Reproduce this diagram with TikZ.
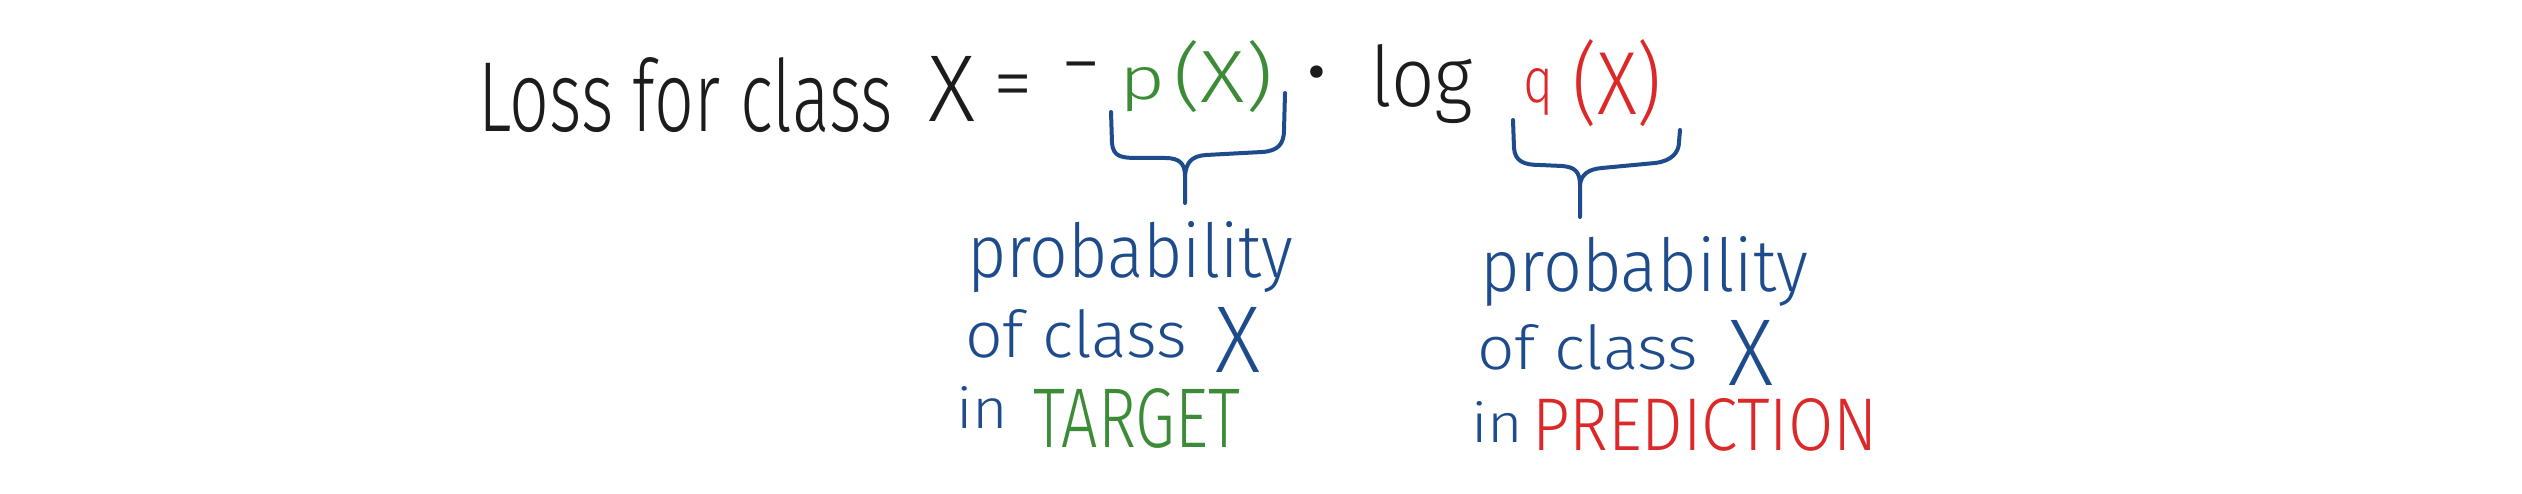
\documentclass[tikz,border=0pt]{standalone}
\usepackage{fontspec}
\setmainfont{Fira Sans Light}
\usepackage{graphicx}
\definecolor{ink}{RGB}{28,28,28}
\definecolor{pgreen}{RGB}{60,140,55}
\definecolor{qred}{RGB}{220,40,40}
\definecolor{bblue}{RGB}{30,75,140}
\newcommand\rsz[3]{\resizebox{#1pt}{#2pt}{#3}}
\begin{document}
\begin{tikzpicture}[x=1pt,y=-1pt,
  txt/.style={inner sep=0pt, outer sep=0pt, anchor=base west},
  optxt/.style={inner sep=0pt, outer sep=0pt, anchor=base, font=\fontsize{80}{80}\selectfont, text=ink},
  brace/.style={draw=bblue, line width=4pt, line cap=round, line join=round}]
\useasboundingbox (0,0) rectangle (2522,494);
\fill[white] (0,0) rectangle (2522,494);

% formula
\node[txt, text=ink] (loss) at (478,132) {\rsz{415}{74}{Loss for class}};
\node[txt, text=ink] (lx) at (928,122) {\rsz{47}{65}{X}};
\node[optxt] (eq) at (1013,111) {=};
\node[optxt] (minus) at (1081,91) {−};
\node[txt, text=pgreen] (p) at (1119,100) {\rsz{46}{32}{p}};
\node[txt, text=pgreen] (px) at (1173,103) {\rsz{100}{62}{(X)}};
\node[optxt, font=\fontsize{130}{130}\selectfont] (dot) at (1317,114) {·};
\node[txt, text=ink] (log) at (1370,107) {\rsz{103}{62}{log}};
\node[txt, text=qred] (q) at (1523,103) {\rsz{30}{34}{q}};
\node[txt, text=qred] (qx) at (1572,115) {\rsz{90}{75}{(X)}};

% braces
\draw[brace] (1111,112) -- (1112,143) .. controls (1113,157) and (1122,158) .. (1138,158) -- (1165,158) .. controls (1180,158) and (1185,164) .. (1185,176) -- (1185,203);
\draw[brace] (1185,176) .. controls (1186,162) and (1192,156) .. (1206,155) -- (1262,152) .. controls (1278,151) and (1284,144) .. (1284,130) -- (1285,93);
\draw[brace] (1513,120) -- (1514,148) .. controls (1515,162) and (1525,165) .. (1540,165) -- (1562,166) .. controls (1575,167) and (1580,172) .. (1580,185) -- (1580,217);
\draw[brace] (1580,185) .. controls (1581,175) and (1588,169) .. (1602,168) -- (1655,163) .. controls (1672,161) and (1679,152) .. (1679,142) -- (1680,130);

% left label
\node[txt, text=bblue] (prob1) at (967,278) {\rsz{326}{56}{probability}};
\node[txt, text=bblue] (cls1) at (965,358) {\rsz{222}{48}{of class}\hspace{28pt}\raisebox{-14pt}{\rsz{45}{65}{X}}};
\node[txt] (in1) at (956,428) {\textcolor{bblue}{\rsz{52}{42}{in}}\hspace{25pt}\raisebox{-19pt}{\textcolor{pgreen}{\rsz{207}{59}{TARGET}}}};

% right label
\node[txt, text=bblue] (prob2) at (1480,292) {\rsz{328}{55}{probability}};
\node[txt, text=bblue] (cls2) at (1477,370) {\rsz{221}{45}{of class}\hspace{30pt}\raisebox{-15pt}{\rsz{45}{65}{X}}};
\node[txt] (in2) at (1471,442) {\textcolor{bblue}{\rsz{52}{41}{in}}\hspace{9pt}\raisebox{-8pt}{\textcolor{qred}{\rsz{346}{52}{PREDICTION}}}};
\end{tikzpicture}
\end{document}
